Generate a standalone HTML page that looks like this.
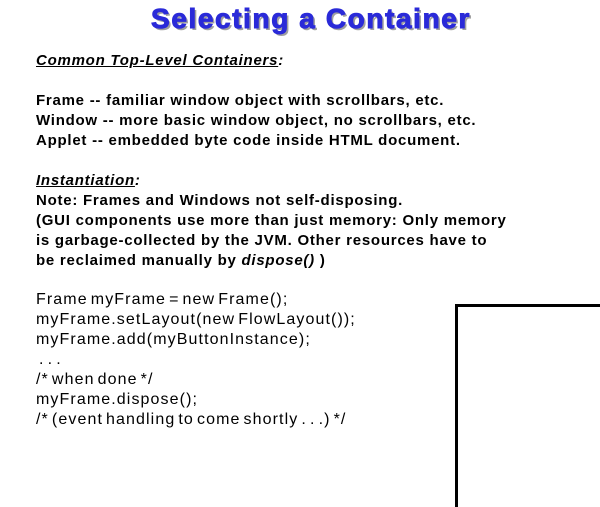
<!DOCTYPE html>
<html><head><style>
body{margin:0;width:600px;height:450px;background:#fff;position:relative;overflow:hidden;font-family:"Liberation Sans",Arial,sans-serif;}
.t{position:absolute;left:0;width:622px;top:3px;text-align:center;font-size:28px;font-weight:900;color:#2a2ad8;text-shadow:2px 2px 0 #a0a0a0;letter-spacing:1.6px;-webkit-text-stroke:1px #2a2ad8;}
.l{position:absolute;left:36px;font-size:16px;line-height:20px;white-space:pre;color:#000;letter-spacing:1.1px;word-spacing:-2.5px;}
.b{font-weight:bold;font-size:15px;letter-spacing:0.75px;word-spacing:0;}
.box{position:absolute;left:455px;top:304px;width:200px;height:200px;border-left:3px solid #000;border-top:3px solid #000;}
</style></head><body>
<div class="t">Selecting a Container</div>
<div class="l b" style="top:51px"><i><u>Common Top-Level Containers</u>:</i></div>
<div class="l b" style="top:91px">Frame -- familiar window object with scrollbars, etc.
Window -- more basic window object, no scrollbars, etc.
Applet -- embedded byte code inside HTML document.</div>
<div class="l b" style="top:171px"><i><u>Instantiation</u>:</i>
Note: Frames and Windows not self-disposing.
(GUI components use more than just memory: Only memory
is garbage-collected by the JVM. Other resources have to
be reclaimed manually by <i>dispose()</i> )</div>
<div class="l" style="top:290px">Frame myFrame = new Frame();
myFrame.setLayout(new FlowLayout());
myFrame.add(myButtonInstance);
 . . .
/* when done */
myFrame.dispose();
/* (event handling to come shortly . . .) */</div>
<div class="box"></div>
</body></html>
